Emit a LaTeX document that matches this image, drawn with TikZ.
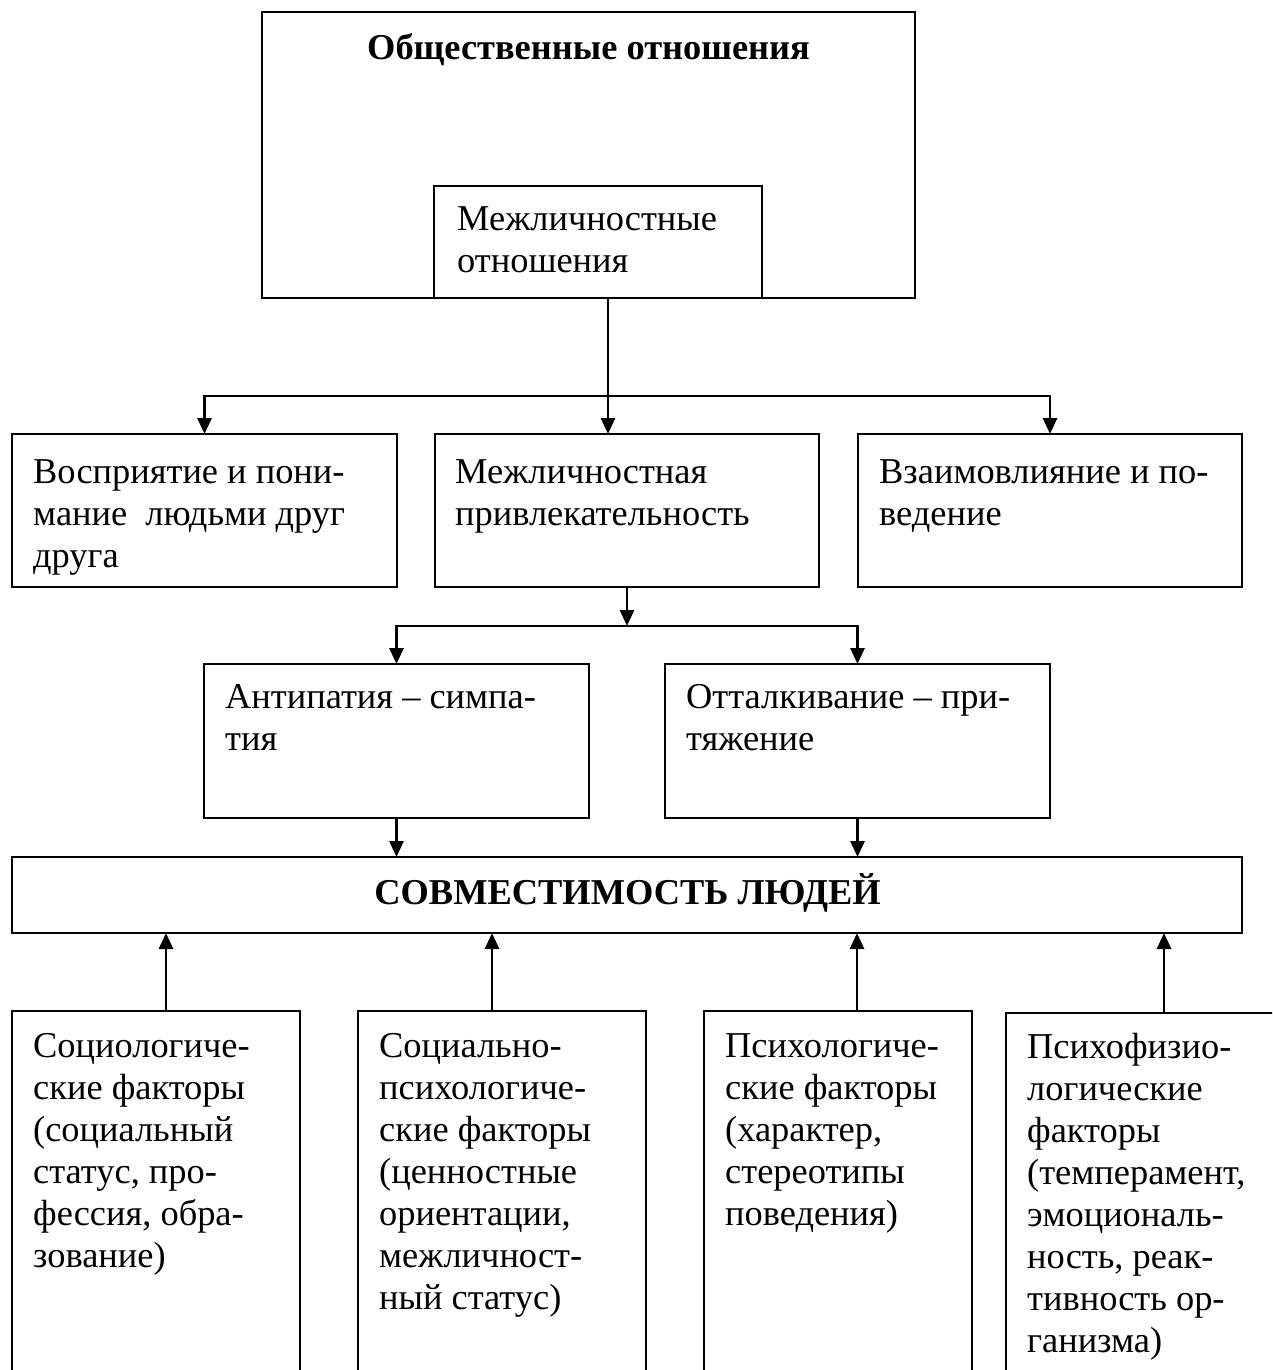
\documentclass[tikz,border=0pt]{standalone}
\usepackage{fontspec}
\setmainfont{Liberation Serif}
\usetikzlibrary{arrows.meta}
\newcommand\bodyfont{\fontsize{36.4}{42}\selectfont}
\tikzset{
  box/.style={draw, line width=2.8pt, outer sep=0pt, inner sep=0pt, anchor=north west},
  txt/.style={anchor=north west, inner sep=0pt, align=left, font=\bodyfont},
  arr/.style={line width=2.8pt, -{Triangle[length=16pt,width=14pt]}},
  ln/.style={line width=2.8pt},
}
\begin{document}
\begin{tikzpicture}[x=1pt,y=-1pt]
\useasboundingbox (0,0) rectangle (1272,1370);
\clip (0,0) rectangle (1272,1370);
\fill[white] (0,0) rectangle (1272,1370);

% top
\node[box, minimum width=653, minimum height=286] (top) at (262,12) {};
\node[anchor=base, inner sep=0pt, font=\bodyfont\bfseries] (toptxt) at (588.5,60) {Общественные отношения};
\node[box, minimum width=328, minimum height=112] (inner) at (434,186) {};
\node[txt] (innertxt) at (457,200.6) {\strut Межличностные\\отношения};

% row 2
\node[box, minimum width=385, minimum height=153] (b1) at (12,434) {};
\node[box, minimum width=384, minimum height=153] (b2) at (435,434) {};
\node[box, minimum width=384, minimum height=153] (b3) at (858,434) {};
\node[txt] (t1) at (33,453.6) {\strut Восприятие и пони-\\мание~~людьми друг\\друга};
\node[txt] (t2) at (455,453.6) {\strut Межличностная\\привлекательность};
\node[txt] (t3) at (879,453.6) {\strut Взаимовлияние и по-\\ведение};

% row 3
\node[box, minimum width=385, minimum height=154] (ra) at (204,664) {};
\node[box, minimum width=385, minimum height=154] (rb) at (665,664) {};
\node[txt] (ta) at (225,678.6) {\strut Антипатия – симпа-\\тия};
\node[txt] (tb) at (686,678.6) {\strut Отталкивание – при-\\тяжение};

% big
\node[box, minimum width=1230, minimum height=76] (big) at (12,857) {};
\node[anchor=base, inner sep=0pt, font=\bodyfont\bfseries] (bigtxt) at (627.5,904) {СОВМЕСТИМОСТЬ ЛЮДЕЙ};

% bottom
\node[box, minimum width=288, minimum height=420] (c1) at (12,1011) {};
\node[box, minimum width=288, minimum height=420] (c2) at (358,1011) {};
\node[box, minimum width=268, minimum height=420] (c3) at (704,1011) {};
\node[box, minimum width=300, minimum height=420] (c4) at (1006,1013) {};
\node[txt] (tc1) at (33,1027.6) {\strut Социологиче-\\ские факторы\\(социальный\\статус, про-\\фессия, обра-\\зование)};
\node[txt] (tc2) at (379,1027.6) {\strut Социально-\\психологиче-\\ские факторы\\(ценностные\\ориентации,\\межличност-\\ный статус)};
\node[txt] (tc3) at (725,1027.6) {\strut Психологиче-\\ские факторы\\(характер,\\стереотипы\\поведения)};
\node[txt] (tc4) at (1027,1028.6) {\strut Психофизио-\\логические\\факторы\\(темперамент,\\эмоциональ-\\ность, реак-\\тивность ор-\\ганизма)};

% connectors
\coordinate (j1) at (608,396);
\coordinate (j2) at (b2.south |- 0,626);
\draw[ln] (inner.south -| j1) -- (j1);
\draw[arr] (j1) -- (j1 |- b2.north);
\draw[arr] (j1) -| (b1.north);
\draw[arr] (j1) -| (b3.north);
\draw[arr] (b2.south) -- (j2);
\draw[arr] (j2) -| (ra.north);
\draw[arr] (j2) -| (rb.north);
\draw[arr] (ra.south) -- (ra.south |- big.north);
\draw[arr] (rb.south) -- (rb.south |- big.north);
\coordinate (u1) at (166,0);
\coordinate (u2) at (492,0);
\coordinate (u3) at (857,0);
\coordinate (u4) at (1164,0);
\draw[arr] (u1 |- c1.north) -- (u1 |- big.south);
\draw[arr] (u2 |- c2.north) -- (u2 |- big.south);
\draw[arr] (u3 |- c3.north) -- (u3 |- big.south);
\draw[arr] (u4 |- c4.north) -- (u4 |- big.south);
\end{tikzpicture}
\end{document}
